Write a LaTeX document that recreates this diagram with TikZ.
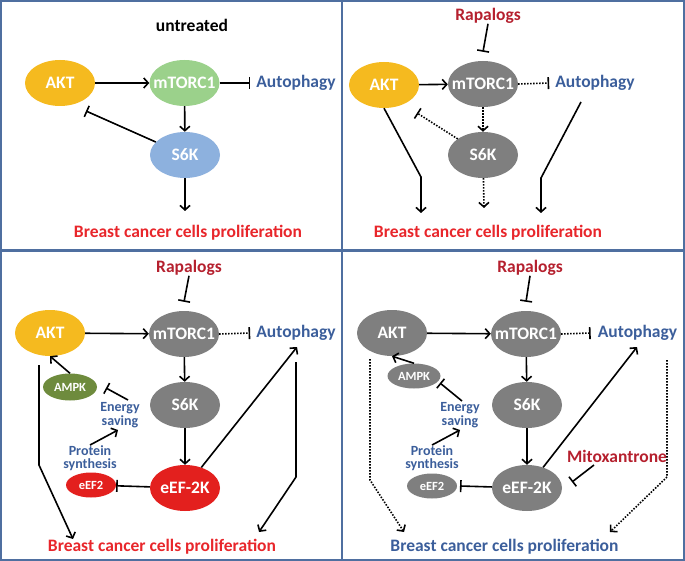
\documentclass[tikz,border=0pt]{standalone}
\usepackage{fontspec}
\setmainfont{Carlito}
\usetikzlibrary{arrows.meta,shapes.geometric}
\definecolor{cyel}{HTML}{F5BA1F}
\definecolor{cgrn}{HTML}{9BD18B}
\definecolor{cs6k}{HTML}{8DB1DE}
\definecolor{cgry}{HTML}{7F7F7F}
\definecolor{cred}{HTML}{E3201E}
\definecolor{campk}{HTML}{6E8B3D}
\definecolor{cblu}{HTML}{3B5E9B}
\definecolor{ctxr}{HTML}{E8262B}
\definecolor{cdrd}{HTML}{B5202E}
\definecolor{cbrd}{HTML}{4F6FA0}
\newcommand{\lbx}[1]{\makebox[0pt]{#1}}
\begin{document}
\begin{tikzpicture}[x=1pt,y=-1pt,
  ell/.style={ellipse,minimum width=70pt,minimum height=46pt,inner sep=0pt,text=white,font=\bfseries\fontsize{17.5}{17.5}\selectfont},
  sm/.style={ellipse,minimum width=50pt,minimum height=25pt,inner sep=0pt,text=white,font=\bfseries\fontsize{12.5}{12.5}\selectfont},
  lbl/.style={inner sep=0pt,font=\bfseries\fontsize{17.5}{17.5}\selectfont},
  sml/.style={inner sep=0pt,align=center,text=cblu,font=\bfseries\fontsize{14}{13.5}\selectfont},
  arr/.style={line width=1.6pt,-{Straight Barb[length=4.5pt,width=10pt]}},
  inh/.style={line width=1.6pt,-{Bar[width=12pt]}},
  dotl/.style={dash pattern=on 1.5pt off 1.5pt}]
\useasboundingbox (0,0) rectangle (685,561);
% panel borders
\draw[cbrd,line width=2.4pt] (1.2,1.2) rectangle (683.8,559.8);
\draw[cbrd,line width=2.6pt] (342,0) -- (342,561);
\draw[cbrd,line width=2.6pt] (0,250.5) -- (685,250.5);

% ---------------- panel 1
\node[lbl] (u1) at (192,25) {untreated};
\node[ell,fill=cyel] (a1) at (60,83) {\lbx{AKT}};
\node[ell,fill=cgrn] (m1) at (184.5,83) {\lbx{mTORC1}};
\node[lbl,text=cblu] (au1) at (296,83) {Autophagy};
\node[ell,fill=cs6k] (s1) at (185,155) {\lbx{S6K}};
\node[lbl,text=ctxr] (b1) at (188,233) {Breast cancer cells proliferation};
\coordinate (t1) at (86,111);
\coordinate (p1) at (185,211);
\draw[arr] (a1) -- (m1);
\draw[inh] (m1.east) -- ([xshift=-6pt]au1.west);
\draw[arr] (m1) -- (s1);
\draw[inh] (s1) -- (t1);
\draw[arr] (s1) -- (p1);

% ---------------- panel 2
\node[lbl,text=cdrd] (r2) at (488,16) {Rapalogs};
\node[ell,fill=cyel] (a2) at (384,85) {\lbx{AKT}};
\node[ell,fill=cgry] (m2) at (483,84) {\lbx{mTORC1}};
\node[lbl,text=cblu] (au2) at (595,83) {Autophagy};
\node[ell,fill=cgry] (s2) at (483,155) {\lbx{S6K}};
\node[lbl,text=ctxr] (b2) at (488,233) {Breast cancer cells proliferation};
\coordinate (t2) at (417,113);
\coordinate (k2) at (421,177);
\coordinate (e2) at (421,213);
\coordinate (p2) at (484,208);
\coordinate (q2) at (581,102);
\coordinate (g2) at (541,178);
\coordinate (h2) at (541,213);
\draw[inh] (r2.south) -- ([yshift=9pt]m2.north);
\draw[arr] (a2) -- (m2);
\draw[inh,dotl] (m2.east) -- ([xshift=-6pt]au2.west);
\draw[arr,dotl] (m2) -- (s2);
\draw[inh,dotl] (s2) -- (t2);
\draw[arr] (a2.south) -- (k2) -- (e2);
\draw[arr,dotl] (s2) -- (p2);
\draw[arr] (q2) -- (g2) -- (h2);

% ---------------- panel 3
\node[lbl,text=cdrd] (r3) at (189,268) {Rapalogs};
\node[ell,fill=cyel] (a3) at (50,333) {\lbx{AKT}};
\node[ell,fill=cgry] (m3) at (184,334) {\lbx{mTORC1}};
\node[lbl,text=cblu] (au3) at (296,333) {Autophagy};
\node[ell,fill=cgry] (s3) at (185,405) {\lbx{S6K}};
\node[ell,fill=cred] (e3) at (185,488) {\lbx{eEF-2K}};
\node[sm,fill=cred] (f3) at (91,485) {\lbx{eEF2}};
\node[sml] (ps3) at (90,458) {Protein\\synthesis};
\node[sml] (es3) at (120,415) {Energy\\saving};
\node[sm,fill=campk,minimum width=54pt,minimum height=27pt] (am3) at (70,387) {\lbx{AMPK}};
\node[lbl,text=ctxr] (b3) at (162,547) {Breast cancer cells proliferation};
\coordinate (k3a) at (39,365);
\coordinate (k3b) at (39,465);
\coordinate (k3c) at (73,539);
\coordinate (au3t) at (297,347);
\coordinate (q3a) at (296,362);
\coordinate (q3b) at (296,477);
\coordinate (q3c) at (259,532);
\coordinate (ps3t) at (118,430);
\coordinate (es3s) at (128,400);
\coordinate (am3b) at (106,388);
\draw[inh] (r3.south) -- ([yshift=9pt]m3.north);
\draw[arr] (a3) -- (m3);
\draw[inh,dotl] (m3.east) -- ([xshift=-6pt]au3.west);
\draw[arr] (m3) -- (s3);
\draw[arr] (s3) -- (e3);
\draw[inh] (e3) -- (f3);
\draw[arr] (ps3.north) -- (ps3t);
\draw[inh] (es3s) -- (am3b);
\draw[arr] (am3.north) -- (a3.south);
\draw[arr] (k3a) -- (k3b) -- (k3c);
\draw[arr] (e3) -- (au3t);
\draw[arr] (q3a) -- (q3b) -- (q3c);

% ---------------- panel 4
\node[lbl,text=cdrd] (r4) at (530,268) {Rapalogs};
\node[ell,fill=cgry] (a4) at (392,333) {\lbx{AKT}};
\node[ell,fill=cgry] (m4) at (526,334) {\lbx{mTORC1}};
\node[lbl,text=cblu] (au4) at (637.5,333) {Autophagy};
\node[ell,fill=cgry] (s4) at (527,405) {\lbx{S6K}};
\node[ell,fill=cgry] (e4) at (527,488) {\lbx{eEF-2K}};
\node[sm,fill=cgry] (f4) at (432,486) {\lbx{eEF2}};
\node[sml] (ps4) at (432,458) {Protein\\synthesis};
\node[sml] (es4) at (460,415) {Energy\\saving};
\node[sm,fill=cgry,minimum width=53pt] (am4) at (414,376) {\lbx{AMPK}};
\node[lbl,text=cdrd] (mi4) at (617,456) {Mitoxantrone};
\node[lbl,text=cblu] (b4) at (504.5,547) {Breast cancer cells proliferation};
\coordinate (k4a) at (370,359);
\coordinate (k4b) at (370,480);
\coordinate (k4c) at (404,532);
\coordinate (au4t) at (637,347);
\coordinate (q4a) at (667,360);
\coordinate (q4b) at (667,477);
\coordinate (q4c) at (610,532);
\coordinate (ps4t) at (460,430);
\coordinate (es4s) at (462,401);
\coordinate (am4b) at (440,383);
\coordinate (mi4s) at (594,465);
\coordinate (mi4b) at (572,482);
\coordinate (f4b) at (460,486);
\draw[inh] (r4.south) -- ([yshift=9pt]m4.north);
\draw[arr] (a4) -- (m4);
\draw[inh,dotl] (m4.east) -- ([xshift=-7pt]au4.west);
\draw[arr] (m4) -- (s4);
\draw[arr] (s4) -- (e4);
\draw[inh] (e4) -- (f4b);
\draw[arr] (ps4.north) -- (ps4t);
\draw[inh] (es4s) -- (am4b);
\draw[arr] (am4.north) -- (a4.south);
\draw[arr,dotl] (k4a) -- (k4b) -- (k4c);
\draw[arr] (e4) -- (au4t);
\draw[inh] (mi4s) -- (mi4b);
\draw[arr,dotl] (q4a) -- (q4b) -- (q4c);
\end{tikzpicture}
\end{document}
